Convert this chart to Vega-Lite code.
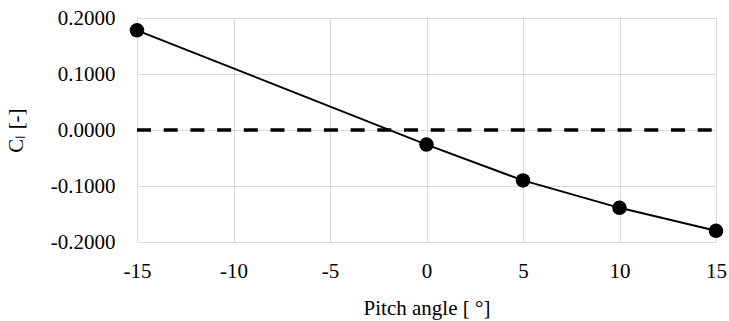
{
  "$schema": "https://vega.github.io/schema/vega-lite/v6.json",
  "autosize": "none",
  "width": 579,
  "height": 224,
  "padding": {"left": 137, "top": 18, "right": 13, "bottom": 79},
  "background": "white",
  "config": {
    "view": {"stroke": null},
    "font": "Liberation Serif",
    "axis": {
      "gridColor": "#d9d9d9",
      "gridWidth": 1,
      "domain": false,
      "ticks": false,
      "labelFlush": false
    }
  },
  "datasets": {
    "cl": [
      {"pitch": -15, "cl": 0.178},
      {"pitch": 0, "cl": -0.026},
      {"pitch": 5, "cl": -0.090},
      {"pitch": 10, "cl": -0.139},
      {"pitch": 15, "cl": -0.180}
    ],
    "zero": [
      {"pitch": -15, "cl": 0},
      {"pitch": 15, "cl": 0}
    ]
  },
  "layer": [
    {
      "data": {"name": "zero"},
      "mark": {"type": "line", "color": "#000", "strokeWidth": 3.5, "strokeDash": [14, 12.7]},
      "encoding": {
        "x": {"field": "pitch", "type": "quantitative",
              "scale": {"domain": [-15, 15], "nice": false},
              "axis": {"values": [-15, -10, -5, 0, 5, 10, 15], "title": "Pitch angle [ °]", "labelPadding": 18, "titlePadding": 16,
                       "labelFont": "Liberation Serif", "titleFont": "Liberation Serif", "labelFontSize": 21, "titleFontSize": 21, "titleFontWeight": "normal", "labelColor": "#000", "titleColor": "#000",
                       "labelExpr": "replace(format(datum.value, 'd'), '\u2212', '-')"}},
        "y": {"field": "cl", "type": "quantitative",
              "scale": {"domain": [-0.2, 0.2], "nice": false},
              "axis": {"values": [-0.2, -0.1, 0, 0.1, 0.2], "title": "Cₗ [-]", "labelPadding": 22, "titlePadding": 24,
                       "labelFont": "Liberation Serif", "titleFont": "Liberation Serif", "labelFontSize": 21, "titleFontSize": 21, "titleFontWeight": "normal", "labelColor": "#000", "titleColor": "#000",
                       "labelExpr": "replace(format(datum.value, '.4f'), '\u2212', '-')"}}
      }
    },
    {
      "data": {"name": "cl"},
      "mark": {"type": "line", "color": "#000", "strokeWidth": 2, "point": {"filled": true, "size": 210, "color": "#000", "opacity": 1}},
      "encoding": {
        "x": {"field": "pitch", "type": "quantitative"},
        "y": {"field": "cl", "type": "quantitative"}
      }
    }
  ]
}
